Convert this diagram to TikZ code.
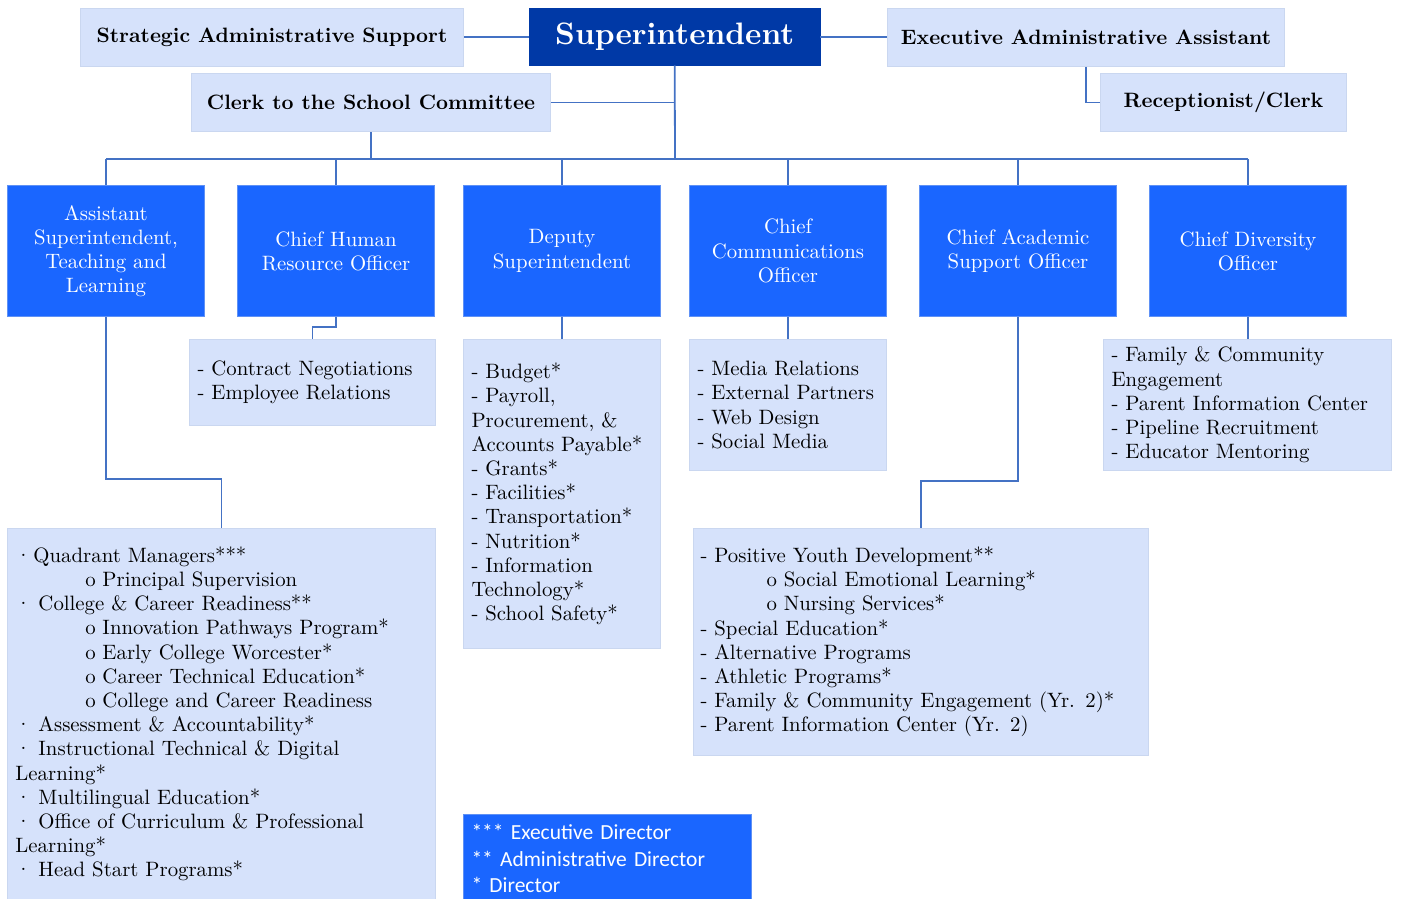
\documentclass[tikz,border=0pt]{standalone}
\usepackage{fontspec}
\setmainfont{lmroman10-regular.otf}[BoldFont=lmroman10-bold.otf, ItalicFont=lmroman10-italic.otf]
\newfontfamily\calibri{Carlito}
\definecolor{lightfill}{RGB}{214,226,251}
\definecolor{lightborder}{RGB}{202,215,240}
\definecolor{darkblue}{RGB}{0,57,166}
\definecolor{brightblue}{RGB}{26,102,255}
\definecolor{brightborder}{RGB}{95,145,245}
\definecolor{linecol}{RGB}{68,114,196}
\tikzset{
  body/.style={font=\fontsize{20.8}{24.2}\selectfont},
  headbox/.style={fill=lightfill, draw=lightborder, line width=1pt, anchor=north west, inner sep=0pt,
    font=\bfseries\fontsize{20.8}{23}\selectfont, align=center},
  listbox/.style={fill=lightfill, draw=lightborder, line width=1pt, anchor=north west, inner xsep=8pt, inner ysep=0pt,
    body, align=left},
  rolebox/.style={fill=brightblue, draw=brightborder, line width=1pt, anchor=north west, inner xsep=3pt, inner ysep=0pt,
    text=white, body, align=center, text width=191pt, minimum width=197pt, minimum height=131pt},
  conn/.style={draw=linecol, line width=1.8pt}
}
\begin{document}
\begin{tikzpicture}[x=1pt,y=-1pt]
\useasboundingbox (0,0) rectangle (1401,899);
% top row
\node[headbox, minimum width=383pt, minimum height=58pt] (sas) at (80,8) {Strategic Administrative Support};
\node[fill=darkblue, draw=darkblue, anchor=north west, inner sep=0pt, minimum width=291pt, minimum height=57pt,
  text=white, font=\bfseries\fontsize{31}{34}\selectfont] (sup) at (529,8) {Superintendent};
\node[headbox, minimum width=397pt, minimum height=58pt] (eaa) at (887,8) {Executive Administrative Assistant};
\node[headbox, minimum width=359pt, minimum height=58pt] (csc) at (191,73) {Clerk to the School Committee};
\node[headbox, minimum width=246pt, minimum height=58pt] (rec) at (1100,73) {Receptionist/Clerk};
% role row
\node[rolebox] (l1) at (7,185) {Assistant\\Superintendent,\\Teaching and\\Learning};
\node[rolebox] (l2) at (237,185) {Chief Human\\Resource Officer};
\node[rolebox] (l3) at (463,185) {Deputy\\Superintendent};
\node[rolebox] (l4) at (689,185) {Chief\\Communications\\Officer};
\node[rolebox] (l5) at (919,185) {Chief Academic\\Support Officer};
\node[rolebox] (l6) at (1149,185) {Chief Diversity\\Officer};
% lists
\node[listbox, text width=230pt, minimum height=86pt] (hrs) at (189,339)
  {- Contract Negotiations\\- Employee Relations};
\node[listbox, text width=181pt, minimum height=309pt] (deps) at (463,339)
  {- Budget*\\- Payroll,\\Procurement, \&\\Accounts Payable*\\- Grants*\\- Facilities*\\- Transportation*\\- Nutrition*\\- Information\\Technology*\\- School Safety*};
\node[listbox, text width=181pt, minimum height=131pt] (coms) at (689,339)
  {- Media Relations\\- External Partners\\- Web Design\\- Social Media};
\node[listbox, text width=272pt, minimum height=131pt] (divs) at (1103,339)
  {- Family \& Community\\Engagement\\- Parent Information Center\\- Pipeline Recruitment\\- Educator Mentoring};
\node[listbox, text width=412pt, minimum height=371pt] (asub) at (7,528)
  {\makebox[18pt][l]{·}Quadrant Managers***\\
   \hspace*{70pt}\makebox[17pt][l]{o}Principal Supervision\\
   \makebox[23pt][l]{·}College \& Career Readiness**\\
   \hspace*{70pt}\makebox[17pt][l]{o}Innovation Pathways Program*\\
   \hspace*{70pt}\makebox[17pt][l]{o}Early College Worcester*\\
   \hspace*{70pt}\makebox[17pt][l]{o}Career Technical Education*\\
   \hspace*{70pt}\makebox[17pt][l]{o}College and Career Readiness\\
   \makebox[23pt][l]{·}Assessment \& Accountability*\\
   \makebox[23pt][l]{·}Instructional Technical \& Digital\\
   Learning*\\
   \makebox[23pt][l]{·}Multilingual Education*\\
   \makebox[23pt][l]{·}Office of Curriculum \& Professional\\
   Learning*\\
   \makebox[23pt][l]{·}Head Start Programs*};
\node[listbox, inner xsep=7pt, text width=441pt, minimum height=227pt] (acs) at (693,528)
  {- Positive Youth Development**\\
   \hspace*{66pt}o Social Emotional Learning*\\
   \hspace*{66pt}o Nursing Services*\\
   - Special Education*\\
   - Alternative Programs\\
   - Athletic Programs*\\
   - Family \& Community Engagement (Yr. 2)*\\
   - Parent Information Center (Yr. 2)};
% legend
\node[fill=brightblue, draw=brightborder, line width=1pt, anchor=north west, inner xsep=8pt, inner ysep=0pt,
  text width=272pt, minimum height=88pt, align=left, text=white, font=\calibri\fontsize{21.5}{26.5}\selectfont] (leg) at (463,814)
  {*** Executive Director\\{}** Administrative Director\\{}* Director};
% connectors
\coordinate (bus) at (675,159);
\coordinate (j1) at (106,479);
\coordinate (j2) at (1017,481);
\draw[conn] (sup.west) -- (sup.west -| sas.east);
\draw[conn] (sup.east) -- (sup.east -| eaa.west);
\draw[conn] (sup.south) -- (bus);
\draw[conn] (csc.east) -- (csc.east -| sup.south);
\draw[conn] (csc.south) -- (csc.south |- bus);
\draw[conn] (eaa.south) |- (rec.west);
\draw[conn] (l1.north |- bus) -- (l6.north |- bus);
\foreach \n in {l1,l2,l3,l4,l5,l6} \draw[conn] (\n.north) -- (\n.north |- bus);
\draw[conn] (l2.south) -- ++(0,10) -| (hrs.north);
\draw[conn] (l3.south) -- (l3.south |- deps.north);
\draw[conn] (l4.south) -- (l4.south |- coms.north);
\draw[conn] (l6.south) -- (l6.south |- divs.north);
\draw[conn] (l1.south) -- (l1.south |- j1) -| (asub.north);
\draw[conn] (l5.south) -- (l5.south |- j2) -| (acs.north);
\end{tikzpicture}
\end{document}
